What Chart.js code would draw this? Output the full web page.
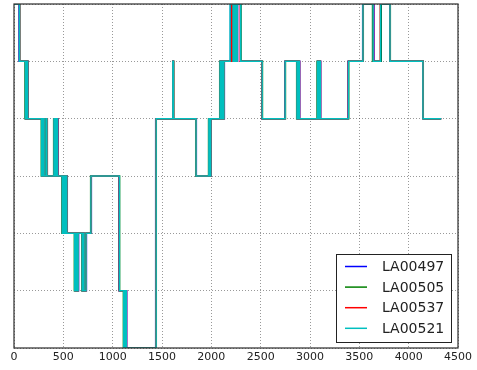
<!DOCTYPE html>
<html>
<head>
<meta charset="utf-8">
<script src="https://cdn.jsdelivr.net/npm/chart.js@4/dist/chart.umd.min.js"></script>
<style>
  body { margin: 0; background: #fff; }
  canvas { display: block; }
</style>
</head>
<body>
<canvas id="stepChart" width="477" height="370"></canvas>
<script>
// series names, in legend order
const seriesNames = ['LA00497', 'LA00505', 'LA00537', 'LA00521'];
const seriesColors = ['#0000ff', '#008000', '#ff0000', '#00bfbf'];

// change points: time and level reached at that time
const la00497X = [0, 52, 118, 128, 143, 285, 296, 310, 327, 337, 410, 422, 434, 446, 492, 504, 516, 528, 540, 620, 628, 640, 654, 694, 704, 714, 734, 784, 1064, 1116, 1128, 1142, 1436, 1610, 1616, 1848, 1978, 1988, 1998, 2092, 2102, 2112, 2122, 2132, 2195, 2224, 2238, 2254, 2266, 2296, 2511, 2745, 2872, 2884, 2896, 3078, 3088, 3098, 3108, 3386, 3534, 3648, 3722, 3811, 4145, 4330];
const la00497Y = [6, 5, 4, 5, 4, 3, 4, 3, 4, 3, 4, 3, 4, 3, 2, 3, 2, 3, 2, 1, 2, 1, 2, 1, 2, 1, 2, 3, 1, 0, 1, 0, 4, 5, 4, 3, 4, 3, 4, 5, 4, 5, 4, 5, 6, 5, 6, 5, 6, 5, 4, 5, 4, 5, 4, 5, 4, 5, 4, 5, 6, 5, 6, 5, 4, 4];

const la00505X = [0, 56, 112, 122, 137, 277, 289, 302, 321, 331, 402, 415, 427, 439, 485, 497, 509, 521, 533, 612, 622, 632, 647, 687, 697, 707, 727, 777, 1070, 1109, 1122, 1135, 1442, 1612, 1618, 1842, 1972, 1982, 1992, 2085, 2095, 2105, 2115, 2125, 2210, 2218, 2232, 2246, 2260, 2300, 2518, 2751, 2865, 2877, 2889, 3072, 3082, 3092, 3102, 3392, 3540, 3634, 3720, 3814, 4148, 4330];
const la00505Y = [6, 5, 4, 5, 4, 3, 4, 3, 4, 3, 4, 3, 4, 3, 2, 3, 2, 3, 2, 1, 2, 1, 2, 1, 2, 1, 2, 3, 1, 0, 1, 0, 4, 5, 4, 3, 4, 3, 4, 5, 4, 5, 4, 5, 6, 5, 6, 5, 6, 5, 4, 5, 4, 5, 4, 5, 4, 5, 4, 5, 6, 5, 6, 5, 4, 4];

const la00537X = [0, 60, 117, 127, 142, 282, 294, 307, 328, 338, 407, 420, 432, 444, 490, 502, 514, 526, 538, 617, 627, 637, 652, 692, 702, 712, 732, 782, 1066, 1114, 1127, 1140, 1438, 1611, 1617, 1846, 1977, 1987, 1997, 2090, 2100, 2110, 2120, 2130, 2205, 2222, 2237, 2252, 2264, 2294, 2513, 2749, 2870, 2882, 2894, 3077, 3087, 3097, 3107, 3388, 3538, 3644, 3712, 3812, 4146, 4330];
const la00537Y = [6, 5, 4, 5, 4, 3, 4, 3, 4, 3, 4, 3, 4, 3, 2, 3, 2, 3, 2, 1, 2, 1, 2, 1, 2, 1, 2, 3, 1, 0, 1, 0, 4, 5, 4, 3, 4, 3, 4, 5, 4, 5, 4, 5, 6, 5, 6, 5, 6, 5, 4, 5, 4, 5, 4, 5, 4, 5, 4, 5, 6, 5, 6, 5, 4, 4];

const la00521X = [0, 58, 115, 125, 140, 280, 292, 305, 324, 334, 405, 418, 430, 442, 488, 500, 512, 524, 536, 615, 625, 635, 650, 690, 700, 710, 730, 780, 1068, 1112, 1125, 1138, 1440, 1610, 1616, 1845, 1975, 1985, 1995, 2088, 2098, 2108, 2118, 2128, 2190, 2220, 2235, 2250, 2262, 2298, 2515, 2748, 2868, 2880, 2892, 3075, 3085, 3095, 3105, 3390, 3537, 3640, 3715, 3811, 4145, 4330];
const la00521Y = [6, 5, 4, 5, 4, 3, 4, 3, 4, 3, 4, 3, 4, 3, 2, 3, 2, 3, 2, 1, 2, 1, 2, 1, 2, 1, 2, 3, 1, 0, 1, 0, 4, 5, 4, 3, 4, 3, 4, 5, 4, 5, 4, 5, 6, 5, 6, 5, 6, 5, 4, 5, 4, 5, 4, 5, 4, 5, 4, 5, 6, 5, 6, 5, 4, 4];

const allX = [la00497X, la00505X, la00537X, la00521X];
const allY = [la00497Y, la00505Y, la00537Y, la00521Y];

// x axis ticks
const xTicks = [0, 500, 1000, 1500, 2000, 2500, 3000, 3500, 4000, 4500];

function toPoints(xs, ys) {
  return xs.map((x, i) => ({ x: x, y: ys[i] }));
}

// frame + legend box inside the plot, like matplotlib
const framePlugin = {
  id: 'framePlugin',
  afterDatasetsDraw(chart) {
    const ctx = chart.ctx;
    const a = chart.chartArea;
    ctx.save();
    ctx.strokeStyle = '#2b2b2b';
    ctx.lineWidth = 1.2;
    ctx.strokeRect(a.left, a.top, a.right - a.left, a.bottom - a.top);

    // legend
    const bx = 336, by = 254, bw = 115, bh = 88;
    ctx.fillStyle = '#fff';
    ctx.fillRect(bx, by, bw, bh);
    ctx.lineWidth = 1;
    ctx.strokeStyle = '#222';
    ctx.strokeRect(bx + 0.5, by + 0.5, bw, bh);
    ctx.font = '14px "DejaVu Sans"';
    ctx.textBaseline = 'middle';
    chart.data.datasets.forEach((ds, i) => {
      const yy = by + 12.5 + i * 20.6;
      ctx.strokeStyle = ds.borderColor;
      ctx.lineWidth = 1.5;
      ctx.beginPath();
      ctx.moveTo(bx + 9, yy);
      ctx.lineTo(bx + 31, yy);
      ctx.stroke();
      ctx.fillStyle = '#222';
      ctx.fillText(ds.label, bx + 46, yy + 1);
    });
    ctx.restore();
  }
};

document.addEventListener('DOMContentLoaded', () => {
  const ctx = document.getElementById('stepChart').getContext('2d');

  const datasets = seriesNames.map((name, i) => ({
    label: name,
    data: toPoints(allX[i], allY[i]),
    borderColor: seriesColors[i],
    backgroundColor: seriesColors[i],
    borderWidth: 1.5,
    pointRadius: 0,
    stepped: true,
    fill: false,
    order: seriesNames.length - 1 - i // cyan on top
  }));

  new Chart(ctx, {
    type: 'line',
    data: { datasets: datasets },
    plugins: [framePlugin],
    options: {
      responsive: false,
      animation: false,
      layout: { padding: { left: 14, top: 4, right: 19, bottom: 0 } },
      plugins: {
        legend: { display: false },
        tooltip: { enabled: false }
      },
      scales: {
        x: {
          type: 'linear',
          min: 0,
          max: 4500,
          afterBuildTicks: (scale) => { scale.ticks = xTicks.map(v => ({ value: v })); },
          afterFit: (scale) => { scale.height = 22; },
          ticks: {
            padding: 3,
            color: '#222',
            font: { family: 'DejaVu Sans', size: 11 },
            maxRotation: 0,
            autoSkip: false,
            callback: (v) => String(v)
          },
          grid: { color: 'rgba(0,0,0,0.4)', lineWidth: 1, drawTicks: false },
          border: { display: false, dash: [1, 2] }
        },
        y: {
          min: 0,
          max: 6,
          afterFit: (scale) => { scale.width = 0; },
          ticks: { display: false, stepSize: 1 },
          grid: { color: 'rgba(0,0,0,0.4)', lineWidth: 1, drawTicks: false },
          border: { display: false, dash: [1, 2] }
        }
      }
    }
  });
});
</script>
</body>
</html>
